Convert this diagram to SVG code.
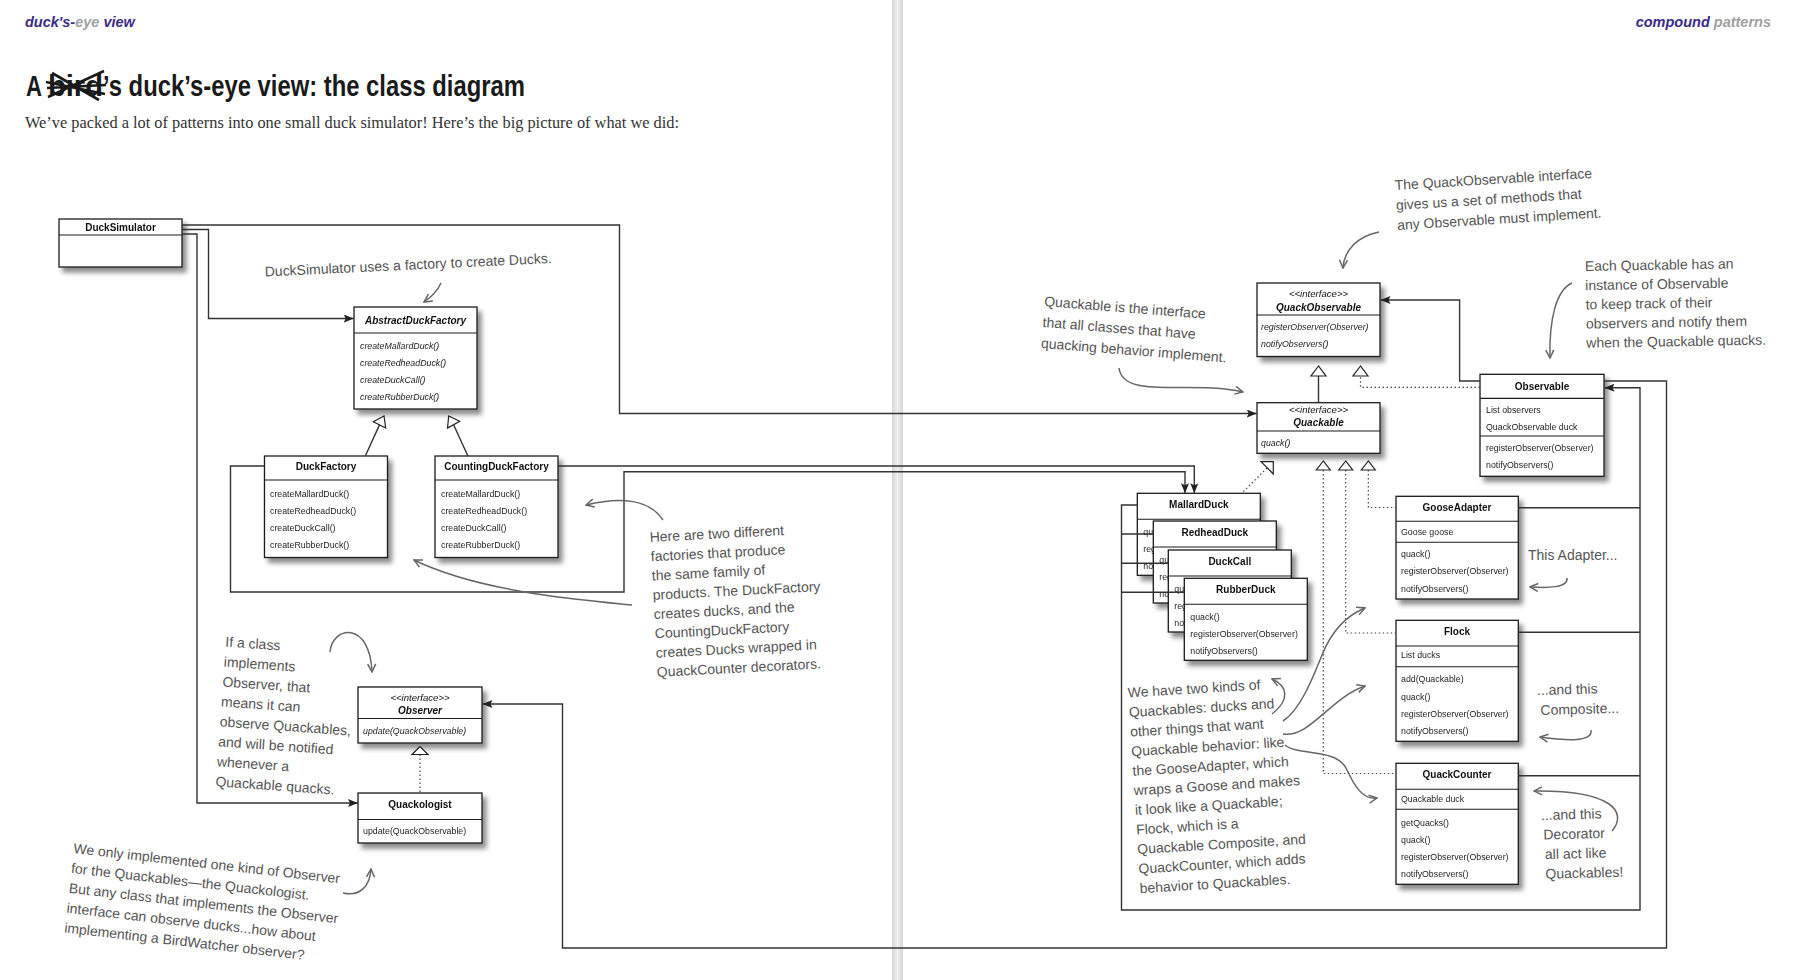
<svg xmlns="http://www.w3.org/2000/svg" width="1795" height="980" viewBox="0 0 1795 980">
<defs>
<style>
.box{fill:#fff;stroke:#1a1a1a;stroke-width:1.3}
.sep{stroke:#1a1a1a;stroke-width:1.1}
.t{font-family:"Liberation Sans",Arial,sans-serif;font-size:10px;font-weight:bold;text-anchor:middle;fill:#111}
.ti{font-family:"Liberation Sans",Arial,sans-serif;font-size:10px;font-weight:bold;font-style:italic;text-anchor:middle;fill:#111}
.st{font-family:"Liberation Sans",Arial,sans-serif;font-size:9.6px;font-style:italic;text-anchor:middle;fill:#111}
.m{font-family:"Liberation Sans",Arial,sans-serif;font-size:8.8px;fill:#222}
.mi{font-family:"Liberation Sans",Arial,sans-serif;font-size:8.8px;font-style:italic;fill:#222}
.conn{fill:none;stroke:#333;stroke-width:1.4}
.dot{fill:none;stroke:#444;stroke-width:1.2;stroke-dasharray:1.5 2.5}
.tri{fill:#fff;stroke:#222;stroke-width:1.2}
.note{font-family:"Liberation Sans",Arial,sans-serif;font-size:14px;fill:#555}
.ann{fill:none;stroke:#666;stroke-width:1.5}
.hdr{font-family:"Liberation Sans",Arial,sans-serif;font-size:14.5px;font-weight:bold;font-style:italic}
</style>
<filter id="sh" x="-10%" y="-10%" width="130%" height="140%">
<feDropShadow dx="4" dy="5" stdDeviation="2.8" flood-color="#000" flood-opacity="0.45"/>
</filter>
<marker id="ah" viewBox="0 0 10 8" refX="10" refY="4" markerWidth="10" markerHeight="8" markerUnits="userSpaceOnUse" orient="auto">
<path d="M0,0 L10,4 L0,8 L2,4 z" fill="#222"/>
</marker>
<marker id="oa" viewBox="0 0 10 10" refX="9" refY="5" markerWidth="10" markerHeight="10" markerUnits="userSpaceOnUse" orient="auto">
<path d="M1,1 L9,5 L1,9" fill="none" stroke="#666" stroke-width="1.5"/>
</marker>
<linearGradient id="gut" x1="0" y1="0" x2="1" y2="0">
<stop offset="0" stop-color="#d6d6d6"/>
<stop offset="0.5" stop-color="#efefef"/>
<stop offset="1" stop-color="#d6d6d6"/>
</linearGradient>
</defs>
<rect x="0" y="0" width="1795" height="980" fill="#fff"/>
<rect x="892" y="0" width="11" height="980" fill="url(#gut)"/>

<g id="header">
<text x="25" y="27" class="hdr"><tspan fill="#3a2a8a">duck's-</tspan><tspan fill="#a0a0a0">eye</tspan><tspan fill="#3a2a8a"> view</tspan></text>
<text x="1771" y="27" class="hdr" text-anchor="end"><tspan fill="#3a2a8a">compound</tspan><tspan fill="#a0a0a0"> patterns</tspan></text>
<text x="26" y="96" font-family="'Liberation Sans Narrow','Liberation Sans',Arial,sans-serif" font-size="30" font-weight="bold" fill="#1a1a1a" textLength="16" lengthAdjust="spacingAndGlyphs">A</text>
<text x="48" y="96" font-family="'Liberation Sans Narrow','Liberation Sans',Arial,sans-serif" font-size="30" font-weight="bold" fill="#1a1a1a" textLength="55" lengthAdjust="spacingAndGlyphs">bird</text>
<path d="M46 82 L105 94 M48 97 L104 71 M52 73 L99 100 M47 88 L106 85" fill="none" stroke="#1a1a1a" stroke-width="2.6"/>
<text x="103" y="96" font-family="'Liberation Sans Narrow','Liberation Sans',Arial,sans-serif" font-size="30" font-weight="bold" fill="#1a1a1a" textLength="422" lengthAdjust="spacingAndGlyphs">’s duck’s-eye view: the class diagram</text>
<text x="25" y="128" font-family="'Liberation Serif','Times New Roman',serif" font-size="16" fill="#333" textLength="654" lengthAdjust="spacingAndGlyphs">We’ve packed a lot of patterns into one small duck simulator! Here’s the big picture of what we did:</text>
</g>

<g id="DuckSimulator" filter="url(#sh)">
<rect class="box" x="59" y="219" width="123" height="48"/>
<line class="sep" x1="59" y1="235" x2="182" y2="235"/>
<text class="t" x="120.5" y="230.5">DuckSimulator</text>
</g>

<g id="AbstractDuckFactory" filter="url(#sh)">
<rect class="box" x="354" y="307" width="123" height="102"/>
<line class="sep" x1="354" y1="333" x2="477" y2="333"/>
<text class="ti" x="415.5" y="323.8">AbstractDuckFactory</text>
<text class="mi" x="360" y="349">createMallardDuck()</text>
<text class="mi" x="360" y="366">createRedheadDuck()</text>
<text class="mi" x="360" y="383">createDuckCall()</text>
<text class="mi" x="360" y="400">createRubberDuck()</text>
</g>

<g id="DuckFactory" filter="url(#sh)">
<rect class="box" x="264.5" y="456" width="123" height="101.5"/>
<line class="sep" x1="264.5" y1="480" x2="387.5" y2="480"/>
<text class="t" x="326" y="469.8">DuckFactory</text>
<text class="m" x="270" y="497">createMallardDuck()</text>
<text class="m" x="270" y="514">createRedheadDuck()</text>
<text class="m" x="270" y="531">createDuckCall()</text>
<text class="m" x="270" y="548">createRubberDuck()</text>
</g>

<g id="CountingDuckFactory" filter="url(#sh)">
<rect class="box" x="435" y="456" width="123" height="101.5"/>
<line class="sep" x1="435" y1="480" x2="558" y2="480"/>
<text class="t" x="496.5" y="469.8">CountingDuckFactory</text>
<text class="m" x="441" y="497">createMallardDuck()</text>
<text class="m" x="441" y="514">createRedheadDuck()</text>
<text class="m" x="441" y="531">createDuckCall()</text>
<text class="m" x="441" y="548">createRubberDuck()</text>
</g>

<g id="Observer" filter="url(#sh)">
<rect class="box" x="358" y="687" width="124" height="56"/>
<line class="sep" x1="358" y1="718.5" x2="482" y2="718.5"/>
<text class="st" x="420" y="700.5">&lt;&lt;interface&gt;&gt;</text>
<text class="ti" x="420" y="714.3">Observer</text>
<text class="mi" x="363" y="733.5">update(QuackObservable)</text>
</g>

<g id="Quackologist" filter="url(#sh)">
<rect class="box" x="358" y="793" width="124" height="50"/>
<line class="sep" x1="358" y1="819.5" x2="482" y2="819.5"/>
<text class="t" x="420" y="807.8">Quackologist</text>
<text class="m" x="363" y="834">update(QuackObservable)</text>
</g>

<g id="QuackObservable" filter="url(#sh)">
<rect class="box" x="1257" y="283" width="123" height="73.5"/>
<line class="sep" x1="1257" y1="315" x2="1380" y2="315"/>
<text class="st" x="1318.5" y="296.5">&lt;&lt;interface&gt;&gt;</text>
<text class="ti" x="1318.5" y="310.5">QuackObservable</text>
<text class="mi" x="1261" y="329.8">registerObserver(Observer)</text>
<text class="mi" x="1261" y="346.8">notifyObservers()</text>
</g>

<g id="Quackable" filter="url(#sh)">
<rect class="box" x="1257" y="402.7" width="123" height="50.6"/>
<line class="sep" x1="1257" y1="431" x2="1380" y2="431"/>
<text class="st" x="1318.5" y="412.5">&lt;&lt;interface&gt;&gt;</text>
<text class="ti" x="1318.5" y="426">Quackable</text>
<text class="mi" x="1261" y="446">quack()</text>
</g>

<g id="Observable" filter="url(#sh)">
<rect class="box" x="1480" y="374.3" width="124" height="102"/>
<line class="sep" x1="1480" y1="398.4" x2="1604" y2="398.4"/>
<line class="sep" x1="1480" y1="436" x2="1604" y2="436"/>
<text class="t" x="1542" y="389.8">Observable</text>
<text class="m" x="1486" y="413">List observers</text>
<text class="m" x="1486" y="430.2">QuackObservable duck</text>
<text class="m" x="1486" y="450.8">registerObserver(Observer)</text>
<text class="m" x="1486" y="468">notifyObservers()</text>
</g>

<g id="MallardDuck" filter="url(#sh)">
<rect class="box" x="1137.3" y="493.3" width="123" height="82"/>
<line class="sep" x1="1137.3" y1="519.3" x2="1260.3" y2="519.3"/>
<text class="t" x="1198.8" y="507.8">MallardDuck</text>
<text class="m" x="1143.3" y="534.8">quack()</text>
<text class="m" x="1143.3" y="552">registerObserver(Observer)</text>
<text class="m" x="1143.3" y="569.3">notifyObservers()</text>
</g>

<g id="RedheadDuck" filter="url(#sh)">
<rect class="box" x="1153.3" y="521" width="123" height="82"/>
<line class="sep" x1="1153.3" y1="547" x2="1276.3" y2="547"/>
<text class="t" x="1214.8" y="535.5">RedheadDuck</text>
<text class="m" x="1159.3" y="562.5">quack()</text>
<text class="m" x="1159.3" y="579.7">registerObserver(Observer)</text>
<text class="m" x="1159.3" y="597">notifyObservers()</text>
</g>

<g id="DuckCall" filter="url(#sh)">
<rect class="box" x="1168.3" y="550" width="123" height="82"/>
<line class="sep" x1="1168.3" y1="576" x2="1291.3" y2="576"/>
<text class="t" x="1229.8" y="564.5">DuckCall</text>
<text class="m" x="1174.3" y="591.5">quack()</text>
<text class="m" x="1174.3" y="608.7">registerObserver(Observer)</text>
<text class="m" x="1174.3" y="626">notifyObservers()</text>
</g>

<g id="RubberDuck" filter="url(#sh)">
<rect class="box" x="1184.3" y="578.3" width="123" height="82"/>
<line class="sep" x1="1184.3" y1="604.3" x2="1307.3" y2="604.3"/>
<text class="t" x="1245.8" y="592.8">RubberDuck</text>
<text class="m" x="1190.3" y="619.8">quack()</text>
<text class="m" x="1190.3" y="637">registerObserver(Observer)</text>
<text class="m" x="1190.3" y="654.3">notifyObservers()</text>
</g>

<g id="GooseAdapter" filter="url(#sh)">
<rect class="box" x="1396" y="496.3" width="122.3" height="102.7"/>
<line class="sep" x1="1396" y1="521.3" x2="1518.3" y2="521.3"/>
<line class="sep" x1="1396" y1="542.3" x2="1518.3" y2="542.3"/>
<text class="t" x="1457" y="511">GooseAdapter</text>
<text class="m" x="1401" y="534.6">Goose goose</text>
<text class="m" x="1401" y="557.3">quack()</text>
<text class="m" x="1401" y="574.3">registerObserver(Observer)</text>
<text class="m" x="1401" y="591.5">notifyObservers()</text>
</g>

<g id="Flock" filter="url(#sh)">
<rect class="box" x="1396" y="620.3" width="122.3" height="121"/>
<line class="sep" x1="1396" y1="646" x2="1518.3" y2="646"/>
<line class="sep" x1="1396" y1="666.7" x2="1518.3" y2="666.7"/>
<text class="t" x="1457" y="635">Flock</text>
<text class="m" x="1401" y="658.3">List ducks</text>
<text class="m" x="1401" y="682.3">add(Quackable)</text>
<text class="m" x="1401" y="699.5">quack()</text>
<text class="m" x="1401" y="716.5">registerObserver(Observer)</text>
<text class="m" x="1401" y="733.5">notifyObservers()</text>
</g>

<g id="QuackCounter" filter="url(#sh)">
<rect class="box" x="1396" y="763.3" width="122.3" height="121"/>
<line class="sep" x1="1396" y1="789.3" x2="1518.3" y2="789.3"/>
<line class="sep" x1="1396" y1="809.3" x2="1518.3" y2="809.3"/>
<text class="t" x="1457" y="778.3">QuackCounter</text>
<text class="m" x="1401" y="801.6">Quackable duck</text>
<text class="m" x="1401" y="825.5">getQuacks()</text>
<text class="m" x="1401" y="842.5">quack()</text>
<text class="m" x="1401" y="859.5">registerObserver(Observer)</text>
<text class="m" x="1401" y="876.5">notifyObservers()</text>
</g>

<g id="connectors">
<path class="conn" d="M182 225 H619.5 V413.5 H1256.7" marker-end="url(#ah)"/>
<path class="conn" d="M182 229.5 H208.5 V318.5 H353.7" marker-end="url(#ah)"/>
<path class="conn" d="M182 234 H197 V803 H358" marker-end="url(#ah)"/>
<path class="conn" d="M558 466 H1194.3 V493.3" marker-end="url(#ah)"/>
<path class="conn" d="M264.5 466 H230.5 V592 H624 V471.7 H1185 V493.3" marker-end="url(#ah)"/>
<path class="conn" d="M1604 381 H1666.5 V948 H562.5 V704 H482.5" marker-end="url(#ah)"/>
<path class="conn" d="M1137.3 505 H1121.5 V910 H1640 V387.7 H1604.5" marker-end="url(#ah)"/>
<path class="conn" d="M1153.3 534 H1121.5 M1168.3 563.3 H1121.5 M1184.3 592.3 H1121.5 M1518.3 507.7 H1640 M1518.3 632.3 H1640 M1518.3 775.7 H1640"/>
<path class="conn" d="M1480 381 H1459.6 V300 H1380.5" marker-end="url(#ah)"/>
<path class="conn" d="M1318.5 402.7 V376"/>
<polygon class="tri" points="1318.5,366 1311,376 1326,376"/>
<path class="dot" d="M1480 387.3 H1360.5 V376"/>
<polygon class="tri" points="1360.5,366 1353,376 1368,376"/>
<path class="dot" d="M1243.3 491.7 L1267.2 467.8"/>
<polygon class="tri" points="1273.3,461.7 1261,461.7 1273.3,474"/>
<path class="dot" d="M1323.3 470 V773.5 H1396"/>
<path class="dot" d="M1345.7 470 V633 H1396"/>
<path class="dot" d="M1368.3 470 V507.5 H1396"/>
<polygon class="tri" points="1323.3,461 1316.3,470 1330.3,470"/>
<polygon class="tri" points="1345.7,461 1338.7,470 1352.7,470"/>
<polygon class="tri" points="1368.3,461 1361.3,470 1375.3,470"/>
<path class="conn" d="M365.3 456 L379.5 424.9"/>
<polygon class="tri" points="384,416 373.3,421.7 385.7,428"/>
<path class="conn" d="M467.9 456 L453.6 424.7"/>
<polygon class="tri" points="448.7,416 459.7,421.3 447.5,428.1"/>
<path class="dot" d="M420 754.5 V793"/>
<polygon class="tri" points="420,746.5 412,754.5 428,754.5"/>
</g>

<g id="annotations">
<text class="note" x="265" y="276.5" transform="rotate(-2.7 265 276.5)">DuckSimulator uses a factory to create Ducks.</text>
<path class="ann" d="M441 283 Q436 294 424 302" marker-end="url(#oa)"/>

<text class="note" x="650" y="542" transform="rotate(-3 650 542)">
<tspan x="650" dy="0">Here are two different</tspan>
<tspan x="650" dy="19.3">factories that produce</tspan>
<tspan x="650" dy="19.3">the same family of</tspan>
<tspan x="650" dy="19.3">products. The DuckFactory</tspan>
<tspan x="650" dy="19.3">creates ducks, and the</tspan>
<tspan x="650" dy="19.3">CountingDuckFactory</tspan>
<tspan x="650" dy="19.3">creates Ducks wrapped in</tspan>
<tspan x="650" dy="19.3">QuackCounter decorators.</tspan>
</text>
<path class="ann" d="M663 520 C650 500 622 496 586 505" marker-end="url(#oa)"/>
<path class="ann" d="M632 605 C580 600 480 592 414 560" marker-end="url(#oa)"/>

<text class="note" x="225" y="646.5" transform="rotate(4 225 646.5)">
<tspan x="225" dy="0">If a class</tspan>
<tspan x="225" dy="20">implements</tspan>
<tspan x="225" dy="20">Observer, that</tspan>
<tspan x="225" dy="20">means it can</tspan>
<tspan x="225" dy="20">observe Quackables,</tspan>
<tspan x="225" dy="20">and will be notified</tspan>
<tspan x="225" dy="20">whenever a</tspan>
<tspan x="225" dy="20">Quackable quacks.</tspan>
</text>
<path class="ann" d="M330 652 C332 626 370 620 372 672" marker-end="url(#oa)"/>

<text class="note" x="73" y="853" transform="rotate(6.5 73 853)">
<tspan x="73" dy="0">We only implemented one kind of Observer</tspan>
<tspan x="73" dy="20">for the Quackables—the Quackologist.</tspan>
<tspan x="73" dy="20">But any class that implements the Observer</tspan>
<tspan x="73" dy="20">interface can observe ducks...how about</tspan>
<tspan x="73" dy="20">implementing a BirdWatcher observer?</tspan>
</text>
<path class="ann" d="M343 893 C360 897 370 886 371 869" marker-end="url(#oa)"/>

<text class="note" x="1395" y="190" transform="rotate(-3.5 1395 190)">
<tspan x="1395" dy="0">The QuackObservable interface</tspan>
<tspan x="1395" dy="20">gives us a set of methods that</tspan>
<tspan x="1395" dy="20">any Observable must implement.</tspan>
</text>
<path class="ann" d="M1379 232 C1358 236 1344 250 1343 268" marker-end="url(#oa)"/>

<text class="note" x="1585" y="271" transform="rotate(-1 1585 271)">
<tspan x="1585" dy="0">Each Quackable has an</tspan>
<tspan x="1585" dy="19.2">instance of Observable</tspan>
<tspan x="1585" dy="19.2">to keep track of their</tspan>
<tspan x="1585" dy="19.2">observers and notify them</tspan>
<tspan x="1585" dy="19.2">when the Quackable quacks.</tspan>
</text>
<path class="ann" d="M1572 283 C1556 290 1549 320 1550 358" marker-end="url(#oa)"/>

<text class="note" x="1044" y="306" transform="rotate(4.5 1044 306)">
<tspan x="1044" dy="0">Quackable is the interface</tspan>
<tspan x="1044" dy="21">that all classes that have</tspan>
<tspan x="1044" dy="21">quacking behavior implement.</tspan>
</text>
<path class="ann" d="M1119 368 C1123 400 1190 380 1243 392" marker-end="url(#oa)"/>

<text class="note" x="1128" y="697.5" transform="rotate(-3.5 1128 697.5)">
<tspan x="1128" dy="0">We have two kinds of</tspan>
<tspan x="1128" dy="19.6">Quackables: ducks and</tspan>
<tspan x="1128" dy="19.6">other things that want</tspan>
<tspan x="1128" dy="19.6">Quackable behavior: like</tspan>
<tspan x="1128" dy="19.6">the GooseAdapter, which</tspan>
<tspan x="1128" dy="19.6">wraps a Goose and makes</tspan>
<tspan x="1128" dy="19.6">it look like a Quackable;</tspan>
<tspan x="1128" dy="19.6">Flock, which is a</tspan>
<tspan x="1128" dy="19.6">Quackable Composite, and</tspan>
<tspan x="1128" dy="19.6">QuackCounter, which adds</tspan>
<tspan x="1128" dy="19.6">behavior to Quackables.</tspan>
</text>
<path class="ann" d="M1272 714 C1290 700 1288 686 1272 679" marker-end="url(#oa)"/>
<path class="ann" d="M1283 721 C1300 710 1312 680 1322 655 C1332 630 1348 615 1365 608" marker-end="url(#oa)"/>
<path class="ann" d="M1283 734 C1310 738 1330 698 1365 686" marker-end="url(#oa)"/>
<path class="ann" d="M1285 745 C1298 756 1335 748 1346 768 C1354 785 1362 800 1377 798" marker-end="url(#oa)"/>

<text class="note" x="1528" y="560">This Adapter...</text>
<path class="ann" d="M1567 578 C1568 588 1548 588 1530 587" marker-end="url(#oa)"/>

<text class="note" x="1537" y="695" transform="rotate(-1.5 1537 695)">
<tspan x="1537" dy="0">...and this</tspan>
<tspan x="1540" dy="20">Composite...</tspan>
</text>
<path class="ann" d="M1591 730 C1593 742 1568 741 1540 737" marker-end="url(#oa)"/>

<text class="note" x="1541" y="820" transform="rotate(-1.5 1541 820)">
<tspan x="1541" dy="0">...and this</tspan>
<tspan x="1543" dy="19.6">Decorator</tspan>
<tspan x="1544" dy="19.6">all act like</tspan>
<tspan x="1544" dy="19.6">Quackables!</tspan>
</text>
<path class="ann" d="M1612 831 C1628 812 1612 790 1534 791" marker-end="url(#oa)"/>
</g>
</svg>
